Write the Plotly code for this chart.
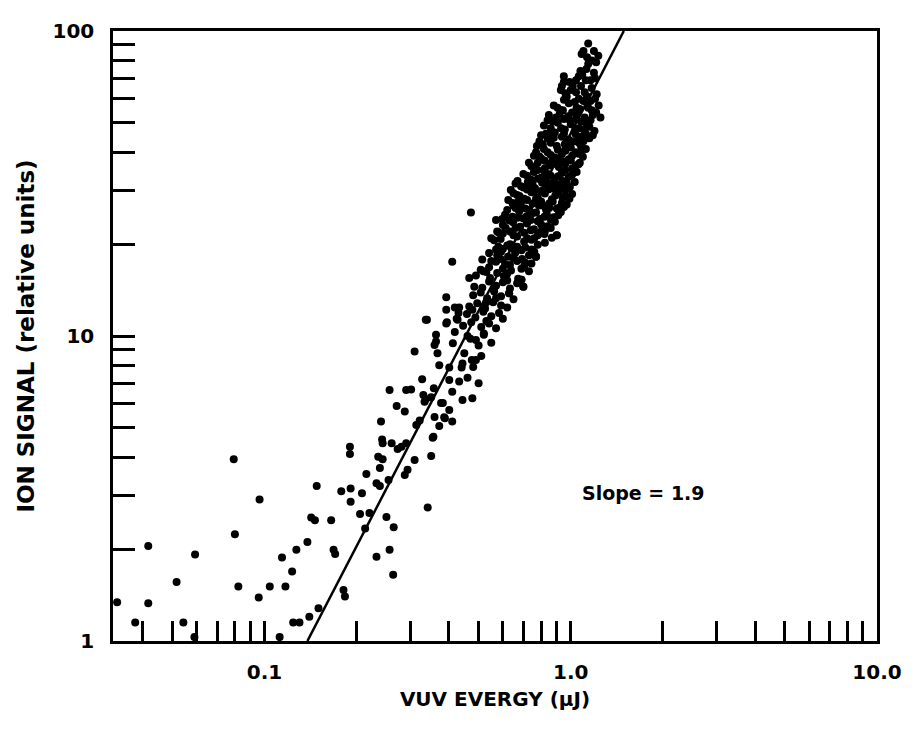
import plotly.graph_objects as go

# ---------------- data ----------------
# sparse low-energy points: (VUV energy in uJ, ion signal)
low_points = [
    (0.033, 1.34), (0.0378, 1.15), (0.0417, 2.05), (0.0417, 1.33), (0.0516, 1.56),
    (0.0543, 1.15), (0.0593, 1.92), (0.059, 1.03), (0.0793, 3.94), (0.080, 2.24),
    (0.0821, 1.51), (0.0963, 2.91), (0.0957, 1.39), (0.104, 1.51), (0.112, 1.03),
    (0.114, 1.88), (0.117, 1.51), (0.123, 1.69), (0.124, 1.15), (0.130, 1.15),
    (0.127, 1.99), (0.138, 2.11), (0.140, 1.20), (0.150, 1.28), (0.148, 3.22),
    (0.142, 2.54), (0.146, 2.49), (0.165, 2.49), (0.168, 1.99), (0.170, 1.93),
    (0.178, 3.10), (0.181, 1.47), (0.183, 1.40), (0.190, 4.33), (0.190, 4.10),
    (0.191, 3.16), (0.191, 2.86),
]

mid_points = [
    (0.208, 3.05), (0.215, 3.53), (0.205, 2.61), (0.220, 2.63), (0.213, 2.34),
    (0.232, 1.89), (0.263, 1.65), (0.256, 1.99), (0.240, 5.24), (0.242, 4.58),
    (0.243, 4.45), (0.260, 4.45), (0.272, 4.26), (0.270, 5.90), (0.287, 5.66),
    (0.235, 4.02), (0.243, 3.94), (0.238, 3.69), (0.232, 3.29), (0.238, 3.22),
    (0.254, 3.37), (0.290, 4.45), (0.293, 3.64), (0.287, 3.50), (0.250, 2.55),
    (0.264, 2.36), (0.313, 5.11), (0.321, 5.28), (0.309, 3.92), (0.341, 2.74),
    (0.350, 4.04), (0.354, 4.64), (0.359, 5.43), (0.372, 5.07), (0.386, 5.41),
    (0.333, 6.09), (0.377, 6.03), (0.280, 4.33), (0.256, 6.65), (0.290, 6.65),
    (0.301, 6.68), (0.327, 7.22), (0.330, 6.40), (0.336, 6.20), (0.350, 6.30),
    (0.357, 6.74), (0.356, 4.67), (0.388, 5.37), (0.410, 5.24), (0.382, 6.03),
    (0.401, 5.72), (0.309, 8.89), (0.372, 8.02), (0.401, 7.17), (0.410, 6.57),
    (0.432, 7.09), (0.440, 7.88), (0.443, 6.17), (0.477, 6.25), (0.480, 7.92),
    (0.490, 8.34), (0.363, 10.1), (0.363, 9.6), (0.367, 8.78), (0.336, 11.3),
    (0.392, 12.2), (0.392, 11.0), (0.418, 12.4), (0.427, 11.3), (0.449, 8.78),
    (0.443, 8.13), (0.475, 8.34), (0.412, 9.47), (0.418, 10.3), (0.401, 7.88),
    (0.359, 9.35), (0.477, 12.2), (0.472, 25.4), (0.410, 17.5), (0.339, 11.3),
    (0.392, 13.4), (0.394, 11.1), (0.432, 12.4), (0.430, 11.9), (0.424, 11.4),
    (0.50, 9.3), (0.52, 10.2), (0.47, 9.8), (0.51, 8.6), (0.46, 7.3), (0.53, 11.2),
    (0.50, 7.0),
]

cluster_points = [
    (1.14, 91), (1.10, 86), (1.085, 84), (1.19, 86), (1.23, 83), (1.21, 79), (1.14, 78),
    (1.125, 75), (1.075, 74), (1.062, 71), (0.949, 71), (0.949, 68), (0.935, 66),
    (1.04, 69), (1.12, 69), (1.19, 73),
    (0.928, 64), (0.97, 61), (1.015, 66), (1.062, 60), (1.11, 63), (1.16, 59), (1.215, 62),
    (0.88, 57), (0.928, 55), (0.985, 58), (1.045, 56), (1.10, 59), (1.17, 55), (1.233, 57),
    (0.848, 53), (0.895, 52), (0.942, 55), (0.993, 51), (1.045, 54), (1.11, 52), (1.18, 53),
    (1.25, 52),
    (0.817, 49), (0.86, 48), (0.907, 50), (0.956, 47.5), (1.0, 49.5), (1.062, 48), (1.12, 50),
    (1.195, 47),
    (0.80, 45.5), (0.84, 44.5), (0.887, 46.5), (0.935, 45), (0.985, 44), (1.035, 46),
    (1.095, 45), (1.15, 44.5),
    (0.775, 42), (0.817, 41), (0.86, 43), (0.907, 40.8), (0.956, 42.5), (1.0, 41.5),
    (1.062, 43), (1.12, 41),
    (0.758, 39), (0.80, 38.2), (0.84, 40), (0.887, 38.5), (0.935, 39.5), (0.985, 38),
    (1.035, 40), (1.095, 38.7),
    (0.744, 36), (0.78, 37), (0.823, 35.5), (0.867, 37.2), (0.914, 35.8), (0.96, 36.8),
    (1.01, 35.4), (1.07, 37),
    (0.72, 33.5), (0.758, 34.5), (0.80, 33), (0.84, 34), (0.887, 32.8), (0.935, 34.2),
    (0.985, 33.3), (1.045, 34.5),
    (0.66, 31.6), (0.688, 31), (0.724, 32), (0.764, 30.5), (0.806, 31.8), (0.848, 30.3),
    (0.895, 31.5), (0.942, 32.2), (0.993, 30.8),
    (0.637, 30.1), (0.668, 29), (0.704, 28.2), (0.744, 29.6), (0.78, 28.5), (0.823, 29.3),
    (0.867, 28.1), (0.914, 29.8), (0.96, 28.7), (1.01, 29.2),
    (0.625, 27.9), (0.645, 27.3), (0.673, 27.5), (0.71, 26.2), (0.75, 27.2), (0.787, 26.8),
    (0.83, 26), (0.873, 27.6), (0.92, 26.4), (0.97, 27),
    (0.61, 25), (0.645, 24.6), (0.678, 25.6), (0.715, 24.6), (0.752, 25.3), (0.793, 24.2),
    (0.835, 25.1), (0.88, 24.5), (0.928, 25.5), (0.57, 24), (0.597, 24.2),
    (0.613, 22.6), (0.648, 23.6), (0.683, 22.8), (0.72, 23.4), (0.758, 22.4), (0.80, 23.2),
    (0.84, 22.9), (0.887, 23.7), (0.575, 22),
    (0.583, 21.8), (0.55, 20.9), (0.633, 22), (0.668, 21.2), (0.704, 21.8), (0.744, 20.7),
    (0.78, 21.4), (0.823, 22.1), (0.867, 21), (0.90, 21.4),
    (0.562, 20.6), (0.58, 19.6), (0.60, 19.3), (0.633, 20), (0.668, 19.6), (0.704, 20.4),
    (0.744, 19.2), (0.78, 19.9), (0.823, 20.2),
    (0.541, 18.7), (0.514, 17.8), (0.575, 18.4), (0.592, 18.9), (0.624, 18.2), (0.658, 18.7),
    (0.693, 17.9), (0.73, 18.4), (0.77, 18.2),
    (0.508, 16.5), (0.541, 16.8), (0.57, 17.5), (0.6, 16.6), (0.633, 17.1), (0.668, 17.6),
    (0.704, 16.9), (0.744, 17.3),
    (0.466, 15.5), (0.49, 15.8), (0.518, 16.3), (0.545, 15.5), (0.575, 16.1), (0.605, 15.7),
    (0.638, 16.4), (0.673, 15.4), (0.69, 15.3),
    (0.484, 14.5), (0.514, 14.4), (0.541, 15.1), (0.57, 14.6), (0.6, 15), (0.633, 14.3),
    (0.668, 14.9), (0.70, 14.5),
    (0.48, 13.6), (0.508, 13.9), (0.533, 13.3), (0.562, 14), (0.592, 13.5), (0.629, 13.8),
    (0.65, 13.2),
    (0.466, 12.5), (0.495, 12.8), (0.525, 12.3), (0.558, 12.9), (0.592, 12.6), (0.62, 12.4),
    (0.458, 11.8), (0.488, 11.5), (0.518, 12), (0.55, 11.6), (0.583, 11.9), (0.60, 11.4),
    (0.445, 10.8), (0.473, 11.1), (0.51, 10.7), (0.541, 11), (0.57, 10.6),
    (0.46, 10.0), (0.49, 9.7), (0.52, 10.1), (0.55, 9.5),
]

# extra points filling the dense core of the cluster
core_points = [
    (0.96, 62.5), (1.04, 63), (1.13, 61), (0.905, 56), (1.01, 54), (1.14, 56), (0.875, 50.5),
    (0.98, 52.5), (1.08, 50.5), (0.83, 46), (0.93, 48), (1.03, 47), (1.15, 48.5), (0.79, 43.5),
    (0.88, 44.7), (0.97, 43.2), (1.08, 42), (0.77, 40), (0.86, 39.2), (0.96, 40.5),
    (1.06, 39.6), (0.73, 37), (0.82, 37.6), (0.90, 36.6), (1.04, 36.2), (0.70, 34),
    (0.78, 35), (0.86, 33.5), (0.96, 35), (0.67, 32.2), (0.75, 31.4), (0.83, 32.4),
    (0.92, 30.8), (0.97, 31.8), (0.65, 29.4), (0.72, 30.2), (0.80, 29.9), (0.89, 30.2),
    (0.69, 27.6), (0.77, 28.2), (0.85, 27.2), (0.94, 28.4), (0.66, 26.3), (0.73, 25.9),
    (0.81, 26.8), (0.90, 26.2), (0.63, 23.9), (0.70, 24.3), (0.78, 23.8), (0.86, 24.1),
    (0.60, 21.7), (0.66, 22.6), (0.74, 22.2), (0.82, 21.6), (0.62, 19.8), (0.69, 19.1),
    (0.76, 20.9), (0.59, 17.9), (0.65, 18.0), (0.71, 17.4), (0.53, 16.2), (0.62, 16.0),
    (0.56, 14.2), (0.62, 15.2), (0.53, 12.9), (0.57, 13.3),
    (1.03, 32), (1.06, 36.6), (0.935, 27.3), (0.90, 21.4), (0.77, 18.2), (0.69, 15.3),
    (0.70, 14.5), (0.629, 13.8),
    (1.00, 64), (1.08, 66), (1.17, 65), (0.99, 68), (1.09, 72), (1.16, 69), (1.20, 70),
    (1.13, 82), (1.17, 80), (0.95, 59.5), (1.03, 58.5), (1.13, 58), (1.20, 60),
    (0.92, 53.5), (1.07, 55.5), (1.16, 51), (1.21, 54), (0.84, 51), (0.95, 51.5),
    (1.04, 51.5), (1.10, 47.5), (0.86, 45.5), (0.95, 46), (1.06, 45), (1.12, 46),
    (1.18, 45.5), (0.81, 42.5), (0.90, 42), (1.02, 43.5), (1.10, 43.5), (0.79, 38.8),
    (0.91, 38.1), (1.01, 39), (1.08, 40.5), (0.76, 35.6), (0.85, 36.2), (0.94, 37.4),
    (1.00, 37.6), (0.74, 32.6), (0.82, 34.6), (0.91, 33.4), (1.01, 33.8), (0.70, 30.7),
    (0.78, 32.8), (0.87, 31.7), (0.96, 30.1), (0.68, 28.8), (0.76, 29.9), (0.84, 30.9),
    (0.94, 30.6), (0.65, 26.8), (0.72, 27.9), (0.80, 27.6), (0.89, 28.9), (0.99, 28.2),
    (0.62, 25.9), (0.69, 26.4), (0.77, 25.4), (0.85, 26.3), (0.95, 26.5), (0.60, 23.1),
    (0.67, 24.4), (0.74, 24.0), (0.82, 24.6), (0.91, 24.9), (0.59, 20.8), (0.65, 21.4),
    (0.72, 20.9), (0.80, 22.0), (0.86, 22.6), (0.57, 19.2), (0.64, 19.4), (0.71, 19.5),
    (0.76, 18.9), (0.55, 17.6), (0.61, 17.2), (0.69, 16.6), (0.73, 16.3),
]

# fitted power-law line (slope 1.9 on log-log), end points
fit_x = [0.138, 1.49]
fit_y = [1.0, 100.0]

# tick values / labels
x_tickvals = [0.04, 0.05, 0.06, 0.07, 0.08, 0.09, 0.1,
              0.2, 0.3, 0.4, 0.5, 0.6, 0.7, 0.8, 0.9, 1.0,
              2, 3, 4, 5, 6, 7, 8, 9, 10]
x_labels = {0.1: "0.1", 1.0: "1.0", 10: "10.0"}
x_ticktext = [x_labels.get(v, "") for v in x_tickvals]
y_tickvals = [1, 2, 3, 4, 5, 6, 7, 8, 9, 10, 20, 30, 40, 50, 60, 70, 80, 90, 100]
y_ticktext = [str(v) if v in (1, 10, 100) else "" for v in y_tickvals]

# ---------------- figure ----------------
all_pts = low_points + mid_points + cluster_points + core_points
xs = [p[0] for p in all_pts]
ys = [p[1] for p in all_pts]

FONT = "DejaVu Sans"

fig = go.Figure()
fig.add_trace(go.Scatter(
    x=xs, y=ys, mode="markers",
    marker=dict(color="black", size=8, line=dict(width=0)),
    showlegend=False, hoverinfo="skip",
))
fig.add_trace(go.Scatter(
    x=fit_x, y=fit_y, mode="lines",
    line=dict(color="black", width=2.5),
    showlegend=False, hoverinfo="skip",
))

fig.add_annotation(
    x=0.237, y=0.486, xref="x", yref="y",
    text="Slope = 1.9", showarrow=False,
    font=dict(family=FONT, size=19, color="black", weight="bold"),
)

axis_common = dict(
    type="log", showgrid=False, zeroline=False,
    showline=True, linewidth=2.5, linecolor="black", mirror=True,
    ticks="inside", tickwidth=2.5, tickcolor="black",
    tickmode="array",
)

fig.update_xaxes(
    **axis_common,
    range=[-1.495, 1.0],
    tickvals=x_tickvals, ticktext=x_ticktext, ticklen=20,
    tickfont=dict(family=FONT, size=20, color="black", weight="bold"),
    ticklabelstandoff=11,
    title=dict(text="VUV EVERGY (µJ)", standoff=10,
               font=dict(family=FONT, size=20, color="black", weight="bold")),
)
fig.update_yaxes(
    **axis_common,
    range=[0, 2],
    tickvals=y_tickvals, ticktext=y_ticktext, ticklen=22,
    tickfont=dict(family=FONT, size=20, color="black", weight="bold"),
    ticklabelstandoff=12,
    title=dict(text="ION SIGNAL (relative units)", standoff=12,
               font=dict(family=FONT, size=23, color="black", weight="bold")),
)

fig.update_layout(
    width=914, height=734,
    margin=dict(l=113, r=34, t=31, b=93),
    paper_bgcolor="white", plot_bgcolor="white",
)

fig.write_html("out.html")
